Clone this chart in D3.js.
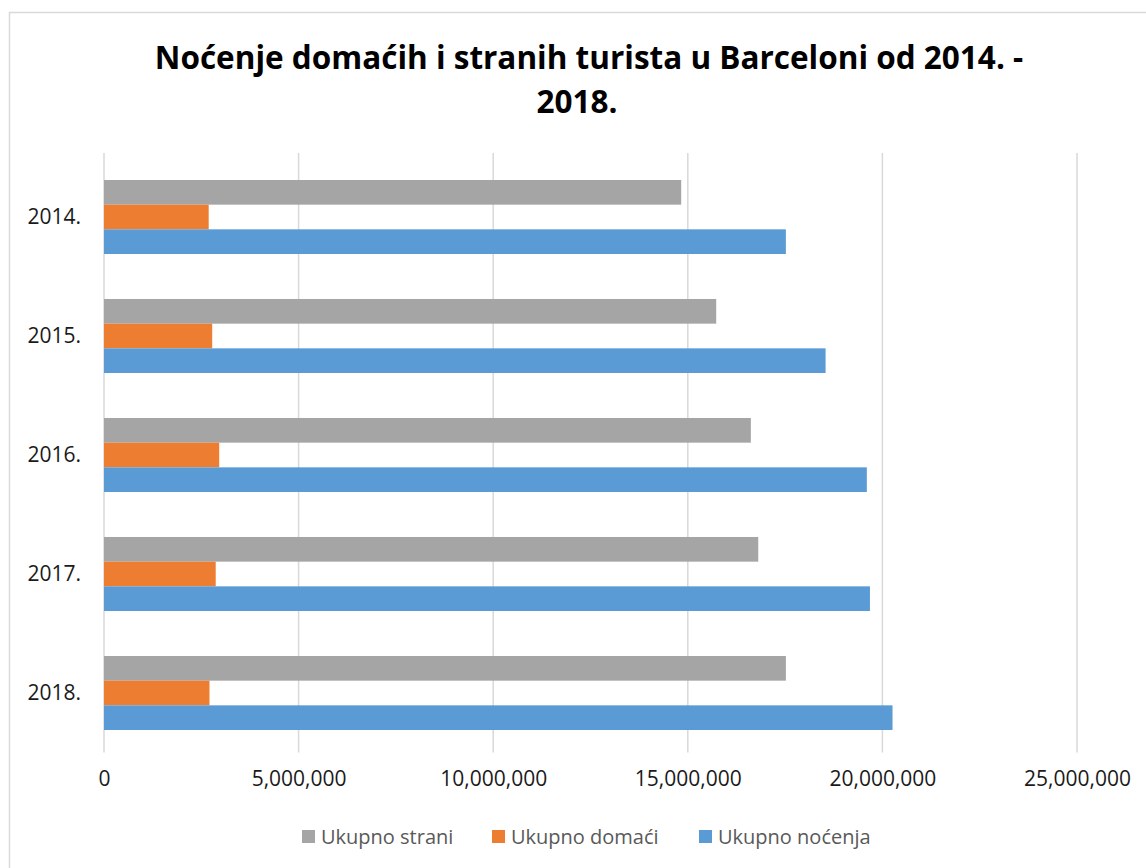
<!DOCTYPE html>
<html>
<head>
<meta charset="utf-8">
<script src="https://cdn.jsdelivr.net/npm/d3@7"></script>
<style>
  body { margin: 0; background: #fff; }
  text { font-family: "Open Sans", sans-serif; }
</style>
</head>
<body>
<div class="container"></div>
<script>
var w = 1146;
var h = 868;

// data
var years = ["2014.", "2015.", "2016.", "2017.", "2018."];
var strani = [14830000, 15730000, 16620000, 16810000, 17520000];
var domaci = [2690000, 2780000, 2960000, 2870000, 2710000];
var ukupno = [17520000, 18540000, 19600000, 19680000, 20260000];
var seriesNames = ["Ukupno strani", "Ukupno domaći", "Ukupno noćenja"];
var seriesColors = ["#A5A5A5", "#ED7D31", "#5B9BD5"];
var xTicks = [0, 5000000, 10000000, 15000000, 20000000, 25000000];

var rows = years.map(function(y, i) {
  return { year: y, vals: [strani[i], domaci[i], ukupno[i]] };
});

var svg = d3.select('.container')
  .append('svg')
  .attr('width', w)
  .attr('height', h);

// chart border
svg.append('rect')
  .attr('x', 9.5).attr('y', 12.5)
  .attr('width', 1145).attr('height', 865)
  .attr('fill', '#fff')
  .attr('stroke', '#d9d9d9')
  .attr('stroke-width', 1.5);

// title
var title = svg.append('text')
  .attr('text-anchor', 'middle')
  .style('font-weight', 'bold')
  .style('font-size', '31.5px')
  .attr('fill', '#000');
title.append('tspan').attr('x', 589).attr('y', 69).text('Noćenje domaćih i stranih turista u Barceloni od 2014. -');
title.append('tspan').attr('x', 577).attr('y', 113).text('2018.');

var xScale = d3.scaleLinear()
  .domain([0, 25000000])
  .range([104, 1077]);

var yScale = d3.scaleBand()
  .domain(years)
  .range([157.5, 752.5])
  .paddingInner(0.378)
  .paddingOuter(0.189);

var subScale = d3.scaleBand()
  .domain([0, 1, 2])
  .range([0, yScale.bandwidth()]);

// gridlines
svg.append('g')
  .selectAll('line')
  .data(xTicks)
  .enter()
  .append('line')
  .attr('x1', d => xScale(d))
  .attr('x2', d => xScale(d))
  .attr('y1', 153)
  .attr('y2', 752.5)
  .attr('stroke', '#d9d9d9')
  .attr('stroke-width', 1.5);

// bars
var groups = svg.append('g')
  .selectAll('g')
  .data(rows)
  .enter()
  .append('g')
  .attr('transform', d => 'translate(0,' + yScale(d.year) + ')');

groups.selectAll('rect')
  .data(d => d.vals)
  .enter()
  .append('rect')
  .attr('x', xScale(0))
  .attr('y', (d, i) => subScale(i))
  .attr('width', d => xScale(d) - xScale(0))
  .attr('height', subScale.bandwidth())
  .attr('fill', (d, i) => seriesColors[i]);

// x axis labels
var xAxis = d3.axisBottom(xScale)
  .tickValues(xTicks)
  .tickFormat(d3.format(','))
  .tickSize(0)
  .tickPadding(0);

var xg = svg.append('g')
  .attr('transform', 'translate(0,771)')
  .call(xAxis);
xg.select('.domain').remove();
xg.selectAll('text')
  .attr('dy', '0.71em')
  .style('font-size', '21px')
  .style('font-family', '"Open Sans", sans-serif')
  .attr('fill', '#1a1a1a');

// y axis labels
var yAxis = d3.axisLeft(yScale).tickSize(0).tickPadding(0);
var yg = svg.append('g')
  .attr('transform', 'translate(81,0)')
  .call(yAxis);
yg.select('.domain').remove();
yg.selectAll('text')
  .style('font-size', '21px')
  .style('font-family', '"Open Sans", sans-serif')
  .attr('fill', '#1a1a1a');

// legend
var legendX = [302, 492, 699];
var legend = svg.append('g').attr('id', 'legend');
var items = legend.selectAll('g')
  .data(seriesNames)
  .enter()
  .append('g')
  .attr('transform', (d, i) => 'translate(' + legendX[i] + ',830)');

items.append('rect')
  .attr('width', 13)
  .attr('height', 13)
  .attr('fill', (d, i) => seriesColors[i]);

items.append('text')
  .attr('x', 19)
  .attr('y', 14)
  .style('font-size', '20px')
  .attr('fill', '#595959')
  .text(d => d);
</script>
</body>
</html>
